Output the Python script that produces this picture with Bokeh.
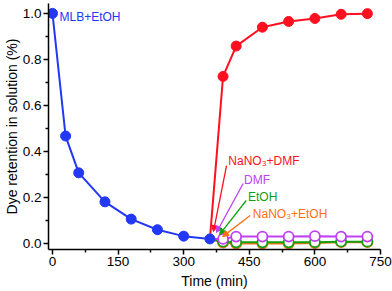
from bokeh.plotting import figure
from bokeh.models import Range1d, FixedTicker, Arrow, NormalHead, Label
from bokeh.embed import file_html
from bokeh.resources import INLINE

# ---- data ----
blue_t = [0, 30, 60, 120, 180, 240, 300, 360]
blue_v = [1.0, 0.467, 0.307, 0.181, 0.106, 0.060, 0.032, 0.020]

later_t = [360, 390, 420, 480, 540, 600, 660, 720]
red_v = [0.020, 0.726, 0.858, 0.940, 0.965, 0.978, 0.996, 0.999]
dmf_v = [0.020, 0.020, 0.030, 0.030, 0.030, 0.032, 0.030, 0.030]
etoh_v = [0.020, 0.008, 0.005, 0.005, 0.005, 0.006, 0.008, 0.008]
nano3_etoh_v = [0.020, 0.004, 0.000, 0.000, 0.000, 0.002, 0.006, 0.006]

x_ticks = [0, 150, 300, 450, 600, 750]
x_minor = [75, 225, 375, 525, 675]
y_ticks = [0.0, 0.2, 0.4, 0.6, 0.8, 1.0]
y_minor = [0.1, 0.3, 0.5, 0.7, 0.9]

BLUE = "#2238f5"
RED = "#ff1020"
PURPLE = "#c040f5"
GREEN = "#12a012"
ORANGE = "#ff7015"
FONT = "Liberation Sans"

# annotation labels: (text, color, label x, label y, arrow tail x, tail y, head x, head y)
annotations = [
    ("NaNO\u2083+DMF", RED, 402, 0.357, 398, 0.339, 368, 0.052),
    ("DMF", PURPLE, 438, 0.274, 436, 0.261, 375, 0.048),
    ("EtOH", GREEN, 447, 0.200, 443, 0.187, 382, 0.039),
    ("NaNO\u2083+EtOH", ORANGE, 458, 0.130, 452, 0.122, 389, 0.030),
]

p = figure(width=392, height=291, output_backend="svg", toolbar_location=None,
           x_range=Range1d(-9.1, 750), y_range=Range1d(-0.026, 1.043),
           min_border_left=47, min_border_right=12, min_border_top=3,
           min_border_bottom=42)
p.outline_line_color = None
p.xgrid.visible = False
p.ygrid.visible = False

for ax in (p.xaxis[0], p.yaxis[0]):
    ax.axis_line_width = 1.5
    ax.axis_line_color = "black"
    ax.major_tick_line_width = 1.5
    ax.minor_tick_line_width = 1.5
    ax.major_tick_out = 5
    ax.major_tick_in = 0
    ax.minor_tick_out = 3
    ax.minor_tick_in = 0
    ax.major_label_text_font = FONT
    ax.major_label_text_font_size = "13.5px"
    ax.major_label_text_color = "black"
    ax.axis_label_text_font = FONT
    ax.axis_label_text_font_size = "14px"
    ax.axis_label_text_font_style = "normal"
    ax.axis_label_text_color = "black"
    ax.major_label_standoff = 2
    ax.axis_label_standoff = 4

p.yaxis[0].axis_label_standoff = 0
p.yaxis[0].major_label_standoff = 2

p.xaxis.ticker = FixedTicker(ticks=x_ticks, minor_ticks=x_minor)
p.yaxis.ticker = FixedTicker(ticks=y_ticks, minor_ticks=y_minor)
p.yaxis.major_label_overrides = {v: f"{v:.1f}" for v in y_ticks}
p.xaxis.axis_label = "Time (min)"
p.yaxis.axis_label = "Dye retention in solution (%)"

# hollow series
for vals, col in ((nano3_etoh_v, ORANGE), (etoh_v, GREEN), (dmf_v, PURPLE)):
    p.line(later_t, vals, line_color=col, line_width=2)
    p.scatter(later_t[1:], vals[1:], size=10, fill_color="white", line_color=col, line_width=1.8)

# red series
p.line(later_t, red_v, line_color=RED, line_width=2)
p.scatter(later_t[1:], red_v[1:], size=10, fill_color=RED, line_color=RED)

# blue series
p.line(blue_t, blue_v, line_color=BLUE, line_width=2)
p.scatter(blue_t, blue_v, size=10, fill_color=BLUE, line_color=BLUE)

p.add_layout(Label(x=16, y=0.984, text="MLB+EtOH", text_color=BLUE, text_font=FONT,
                   text_font_size="12px", text_baseline="middle"))

for txt, col, lx, ly, tx, ty, hx, hy in annotations:
    p.add_layout(Arrow(x_start=tx, y_start=ty, x_end=hx, y_end=hy, line_color=col, line_width=1.3,
                       end=NormalHead(size=6, fill_color=col, line_color=col)))
    p.add_layout(Label(x=lx, y=ly, text=txt, text_color=col, text_font=FONT,
                       text_font_size="12px", text_baseline="middle"))

open("out.html", "w").write(file_html(p, INLINE))
